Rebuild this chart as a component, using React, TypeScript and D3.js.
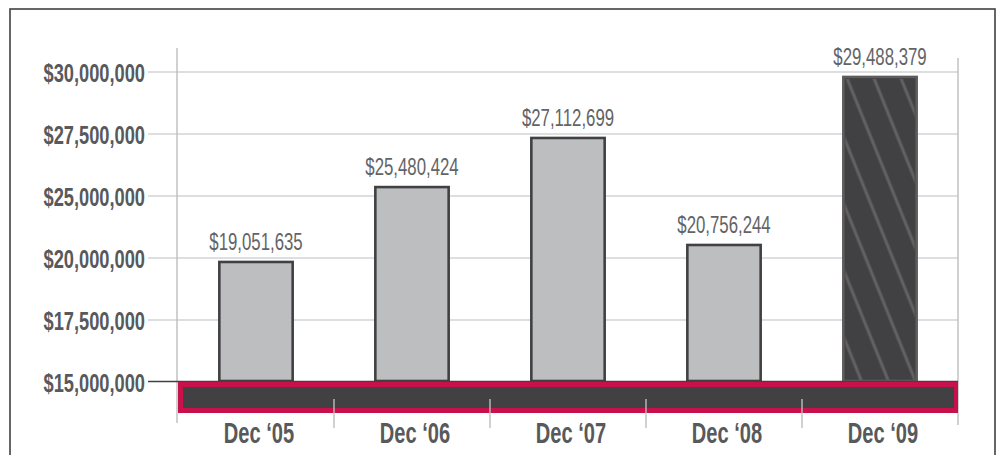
import React from "react";
import * as d3 from "d3";

const categories = ["Dec ‘05", "Dec ‘06", "Dec ‘07", "Dec ‘08", "Dec ‘09"];
// Printed value labels
const valueLabels = ["$19,051,635", "$25,480,424", "$27,112,699", "$20,756,244", "$29,488,379"];
// Bar heights as drawn against the printed axis
const barValues = [19840000, 25360000, 27340000, 21050000, 29800000];
const tickValues = [15000000, 17500000, 20000000, 25000000, 27500000, 30000000];
const tickLabels = ["$15,000,000", "$17,500,000", "$20,000,000", "$25,000,000", "$27,500,000", "$30,000,000"];
const highlightIndex = 4;

const W = 1002;
const H = 455;
const plotLeft = 178;
const plotRight = 958;
const baseY = 382;
const topTickY = 72;
const FONT = "'Liberation Sans', Arial, sans-serif";

export default function App() {
  const step = (baseY - topTickY) / (tickValues.length - 1);
  const y = d3
    .scaleLinear()
    .domain(tickValues)
    .range(tickValues.map((_, i) => baseY - i * step));
  const x = d3.scaleBand<string>().domain(categories).range([plotLeft, plotRight]).padding(0);
  const barW = x.bandwidth() * 0.47;

  return (
    <svg width={W} height={H} style={{ position: "absolute", left: 0, top: 0, background: "#fff" }}>
      <defs>
        <pattern id="hatch" width={25} height={25} patternUnits="userSpaceOnUse" patternTransform="rotate(-22)">
          <line x1={6} y1={-5} x2={6} y2={30} stroke="#646163" strokeWidth={3} />
        </pattern>
      </defs>
      <rect x={10} y={9} width={985} height={470} fill="#fff" stroke="#414042" strokeWidth={1.6} />

      {/* gridlines */}
      {tickValues.map((t, i) =>
        i === 0 ? null : (
          <line key={t} x1={148} x2={plotRight} y1={y(t)} y2={y(t)} stroke="#d1d3d4" strokeWidth={1.4} />
        )
      )}
      {/* vertical frame lines */}
      <line x1={177} x2={177} y1={48} y2={423} stroke="#bcbec0" strokeWidth={1.4} />
      <line x1={plotRight} x2={plotRight} y1={58} y2={425} stroke="#bcbec0" strokeWidth={1.4} />

      {/* tick labels */}
      {tickValues.map((t, i) => (
        <text
          key={"tl" + t}
          transform={`translate(145,${y(t) + 10}) scale(0.73,1)`}
          textAnchor="end"
          fontFamily={FONT}
          fontWeight="bold"
          fontSize={25}
          fill="#58595b"
        >
          {tickLabels[i]}
        </text>
      ))}

      {/* bars */}
      {categories.map((c, i) => {
        const cx = (x(c) as number) + x.bandwidth() / 2;
        const top = y(barValues[i]);
        const hl = i === highlightIndex;
        return (
          <g key={c}>
            <rect
              x={cx - barW / 2}
              y={top}
              width={barW}
              height={baseY - top - 1}
              fill={hl ? "#414042" : "#bcbec0"}
              stroke={hl ? "#5f5c5e" : "#414042"}
              strokeWidth={2.6}
            />
            {hl && (
              <rect
                x={cx - barW / 2 + 2}
                y={top + 2}
                width={barW - 4}
                height={baseY - top - 4}
                fill="url(#hatch)"
              />
            )}
            <text
              transform={`translate(${cx},${top - 12}) scale(0.7,1)`}
              textAnchor="middle"
              fontFamily={FONT}
              fontSize={24}
              fill="#636466"
            >
              {valueLabels[i]}
            </text>
          </g>
        );
      })}

      {/* baseline */}
      <line x1={148} x2={plotRight} y1={baseY - 0.5} y2={baseY - 0.5} stroke="#414042" strokeWidth={1.6} />

      {/* red band */}
      <rect x={plotLeft} y={baseY} width={plotRight - plotLeft} height={31} fill="#c8104a" />
      <rect x={plotLeft + 5} y={baseY + 5} width={plotRight - plotLeft - 9} height={21} fill="#414042" />

      {/* category separators */}
      {categories.slice(1).map((c) => (
        <line key={"s" + c} x1={x(c) as number} x2={x(c) as number} y1={399} y2={428} stroke="#bcbec0" strokeWidth={1.4} />
      ))}

      {/* category labels */}
      {categories.map((c) => (
        <text
          key={"cl" + c}
          transform={`translate(${(x(c) as number) + x.bandwidth() / 2 + 3},443) scale(0.67,1)`}
          textAnchor="middle"
          fontFamily={FONT}
          fontWeight="bold"
          fontSize={30}
          fill="#58595b"
        >
          {c}
        </text>
      ))}
    </svg>
  );
}
